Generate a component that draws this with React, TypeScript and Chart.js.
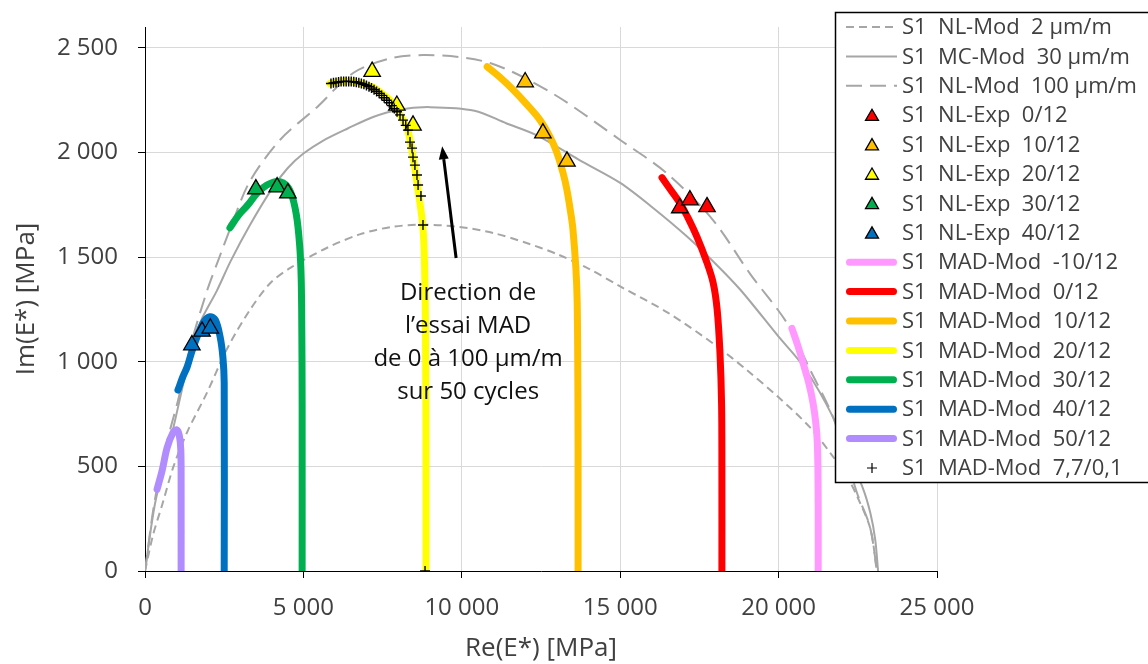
import React, { useEffect, useRef } from 'react';
import { Chart, registerables } from 'chart.js';

Chart.register(...registerables);

// ---------- data ----------
const xTickValues = [0, 5000, 10000, 15000, 20000, 25000];
const yTickValues = [0, 500, 1000, 1500, 2000, 2500];

const nlMod2: number[][] = [
  [0, 0], [250, 170], [550, 320], [900, 500], [1350, 670], [1950, 850], [2600, 1065], [3300, 1245],
  [3950, 1375], [4600, 1450], [5750, 1545], [6800, 1610], [7800, 1645], [8800, 1655], [9900, 1645],
  [11000, 1615], [12000, 1570], [13000, 1515], [14000, 1445], [15000, 1360], [16500, 1235],
  [18000, 1080], [19000, 960], [20000, 830], [21000, 685], [21700, 550], [22200, 440], [22500, 350],
  [22900, 200], [23100, 0],
];

const mcMod30: number[][] = [
  [0, 0], [320, 325], [880, 675], [1420, 1030], [1750, 1190], [2270, 1340], [2700, 1480], [3300, 1650],
  [4000, 1825], [4500, 1925], [5000, 1995], [5600, 2055], [6400, 2115], [7200, 2170], [8000, 2205],
  [9000, 2217], [10400, 2200], [11400, 2140], [12400, 2080], [13700, 1965], [15000, 1855],
  [16000, 1740], [17100, 1600], [18000, 1470], [18800, 1343], [20000, 1120], [20800, 975],
  [21700, 740], [22650, 400], [22900, 275], [23050, 150], [23140, 0],
];

const nlMod100: number[][] = [
  [0, 0], [300, 330], [700, 620], [1050, 820], [1500, 1110], [1960, 1340], [2300, 1480], [2700, 1640],
  [3300, 1860], [4260, 2060], [5430, 2217], [6570, 2380], [7730, 2450], [8780, 2466], [9940, 2456],
  [10890, 2428], [11930, 2361], [13200, 2251], [15000, 2060], [16480, 1900], [17930, 1677],
  [19100, 1420], [20265, 1185], [21000, 960], [21717, 736], [22475, 373], [22885, 210], [23106, 0],
];

const expRed: number[][] = [[16880, 1735], [17200, 1773], [17740, 1740]];
const expOrange: number[][] = [[12000, 2337], [12560, 2093], [13320, 1958]];
const expYellow: number[][] = [[7170, 2387], [7950, 2225], [8460, 2130]];
const expGreen: number[][] = [[3500, 1825], [4170, 1835], [4510, 1806]];
const expBlue: number[][] = [[1480, 1080], [1800, 1145], [2060, 1160]];

const madPink: number[][] = [
  [20420, 1160], [20600, 1080], [20770, 995], [20950, 900], [21090, 800], [21180, 700], [21220, 620],
  [21240, 500], [21250, 300], [21250, 0],
];
const madRed: number[][] = [
  [16320, 1880], [16600, 1820], [16900, 1755], [17200, 1670], [17430, 1595], [17700, 1490],
  [17930, 1380], [18060, 1250], [18150, 1040], [18200, 800], [18210, 500], [18210, 0],
];
const madOrange: number[][] = [
  [10800, 2410], [11200, 2360], [11620, 2300], [12050, 2230], [12470, 2155], [12800, 2070],
  [13000, 2000], [13200, 1900], [13320, 1820], [13450, 1700], [13510, 1630], [13600, 1450],
  [13640, 1300], [13660, 1000], [13670, 600], [13670, 0],
];
const madYellow: number[][] = [
  [5840, 2330], [6200, 2340], [6700, 2335], [7200, 2312], [7500, 2280], [7830, 2235], [8050, 2180],
  [8270, 2120], [8460, 1980], [8620, 1820], [8780, 1630], [8840, 1340], [8860, 1000], [8870, 500],
  [8870, 0],
];
const madGreen: number[][] = [
  [2680, 1640], [2950, 1700], [3220, 1745], [3630, 1820], [4040, 1858], [4360, 1855], [4600, 1810],
  [4780, 1700], [4880, 1560], [4930, 1400], [4950, 1150], [4960, 800], [4960, 0],
];
const madBlue: number[][] = [
  [1040, 865], [1200, 930], [1330, 975], [1480, 1050], [1640, 1118], [1850, 1190], [2050, 1215],
  [2220, 1200], [2370, 1120], [2460, 1020], [2500, 900], [2500, 0],
];
const madPurple: number[][] = [
  [380, 390], [540, 480], [700, 590], [880, 660], [1000, 675], [1080, 650], [1130, 580], [1140, 400],
  [1140, 0],
];

const madCross: number[][] = [
  [5870, 2330], [5950, 2333], [6030, 2335], [6110, 2337], [6190, 2339], [6270, 2340], [6350, 2340],
  [6430, 2340], [6510, 2339], [6590, 2338], [6670, 2336], [6750, 2333], [6830, 2330], [6910, 2326],
  [6990, 2321], [7070, 2315], [7150, 2308], [7230, 2300], [7310, 2292], [7390, 2283], [7470, 2273],
  [7550, 2262], [7630, 2250], [7710, 2238], [7790, 2224], [7870, 2210], [7955, 2195], [8050, 2180],
  [8145, 2155], [8230, 2130], [8300, 2107], [8365, 2050], [8430, 2021], [8460, 1978], [8520, 1940],
  [8585, 1893], [8620, 1845], [8710, 1792], [8775, 1654], [8840, 0],
];

const annotationLines = ['Direction de', 'l’essai MAD', 'de 0 à 100 µm/m', 'sur 50 cycles'];

// ---------- styles ----------
const FONT = "'Open Sans', 'Noto Sans', sans-serif";
const GRAY = '#A6A6A6';
const TEXT = '#404040';

const pts = (a: number[][]) => a.map(([x, y]) => ({ x, y }));

const grayLine = (label: string, data: number[][], dash: number[]) => ({
  label, data: pts(data), showLine: true, borderColor: GRAY, backgroundColor: GRAY,
  borderWidth: 2, borderDash: dash, pointRadius: 0, tension: 0.3, order: 30, kind: 'line',
});
const expPts = (label: string, data: number[][], color: string) => ({
  label, data: pts(data), showLine: false, pointStyle: 'triangle', pointRadius: 9.5,
  pointBackgroundColor: color, pointBorderColor: '#000', pointBorderWidth: 1.3,
  backgroundColor: color, borderColor: '#000', order: 10, kind: 'tri',
});
const madLine = (label: string, data: number[][], color: string) => ({
  label, data: pts(data), showLine: true, borderColor: color, backgroundColor: color,
  borderWidth: 7, borderCapStyle: 'round', borderJoinStyle: 'round', pointRadius: 0,
  tension: 0.35, order: 20, kind: 'thick',
});

const fmt = (v: number) => String(v).replace(/\B(?=(\d{3})+(?!\d))/g, ' ');

const annotationPlugin = {
  id: 'annot',
  afterDatasetsDraw(chart: any) {
    const { ctx, scales } = chart;
    const xs = scales.x, ys = scales.y;
    ctx.save();
    const tx = xs.getPixelForValue(9820), ty = ys.getPixelForValue(1496);
    const hx = xs.getPixelForValue(9380), hy = ys.getPixelForValue(2030);
    const ang = Math.atan2(hy - ty, hx - tx);
    const headLen = 13, headW = 5;
    const bx = hx - Math.cos(ang) * headLen, by = hy - Math.sin(ang) * headLen;
    ctx.strokeStyle = '#000';
    ctx.lineWidth = 3;
    ctx.beginPath(); ctx.moveTo(tx, ty); ctx.lineTo(bx, by); ctx.stroke();
    ctx.fillStyle = '#000';
    ctx.beginPath();
    ctx.moveTo(hx, hy);
    ctx.lineTo(bx + Math.sin(ang) * headW, by - Math.cos(ang) * headW);
    ctx.lineTo(bx - Math.sin(ang) * headW, by + Math.cos(ang) * headW);
    ctx.closePath(); ctx.fill();
    ctx.font = `24px ${FONT}`;
    ctx.fillStyle = '#111';
    ctx.textAlign = 'center';
    ctx.textBaseline = 'middle';
    const cx = xs.getPixelForValue(10200);
    const y0 = ys.getPixelForValue(1330);
    annotationLines.forEach((t, i) => ctx.fillText(t, cx, y0 + i * 33));
    ctx.restore();
  },
};

const legendPlugin = {
  id: 'boxLegend',
  afterDraw(chart: any) {
    const { ctx } = chart;
    const bx = 835, by = 12, bw = 330, bh = 470;
    ctx.save();
    ctx.fillStyle = '#fff';
    ctx.fillRect(bx, by, bw, bh);
    ctx.strokeStyle = '#000';
    ctx.lineWidth = 1.5;
    ctx.strokeRect(bx + 0.5, by + 0.5, bw, bh);
    const x1 = 846, x2 = 897, mx = 872, tx = 902;
    chart.data.datasets.forEach((ds: any, i: number) => {
      const cy = 27 + i * 29.4;
      ctx.save();
      if (ds.kind === 'line' || ds.kind === 'thick') {
        ctx.strokeStyle = ds.borderColor;
        ctx.lineWidth = ds.borderWidth;
        ctx.setLineDash(ds.borderDash || []);
        ctx.lineCap = ds.kind === 'thick' ? 'round' : 'butt';
        const pad = ds.kind === 'thick' ? 3.5 : 0;
        ctx.beginPath(); ctx.moveTo(x1 + pad, cy); ctx.lineTo(x2 - pad, cy); ctx.stroke();
      } else if (ds.kind === 'tri') {
        const r = 7.5;
        ctx.fillStyle = ds.pointBackgroundColor;
        ctx.strokeStyle = '#000';
        ctx.lineWidth = 1.3;
        ctx.beginPath();
        for (let k = 0; k < 3; k++) {
          const a = -Math.PI / 2 + (k * 2 * Math.PI) / 3;
          const px = mx + Math.cos(a) * r, py = cy + 1.5 + Math.sin(a) * r;
          if (k === 0) ctx.moveTo(px, py); else ctx.lineTo(px, py);
        }
        ctx.closePath(); ctx.fill(); ctx.stroke();
      } else {
        ctx.strokeStyle = '#000';
        ctx.lineWidth = 1.2;
        ctx.beginPath();
        ctx.moveTo(mx - 5, cy); ctx.lineTo(mx + 5, cy);
        ctx.moveTo(mx, cy - 5); ctx.lineTo(mx, cy + 5);
        ctx.stroke();
      }
      ctx.restore();
      ctx.font = `22px ${FONT}`;
      ctx.fillStyle = TEXT;
      ctx.textAlign = 'left';
      ctx.textBaseline = 'middle';
      ctx.fillText(ds.label, tx, cy + 1);
    });
    ctx.restore();
  },
};

export default function App() {
  const ref = useRef<HTMLCanvasElement>(null);
  useEffect(() => {
    const datasets: any[] = [
      grayLine('S1  NL-Mod  2 µm/m', nlMod2, [8, 5]),
      grayLine('S1  MC-Mod  30 µm/m', mcMod30, []),
      grayLine('S1  NL-Mod  100 µm/m', nlMod100, [16, 8]),
      expPts('S1  NL-Exp  0/12', expRed, '#FF0000'),
      expPts('S1  NL-Exp  10/12', expOrange, '#FFC000'),
      expPts('S1  NL-Exp  20/12', expYellow, '#FFFF00'),
      expPts('S1  NL-Exp  30/12', expGreen, '#00B050'),
      expPts('S1  NL-Exp  40/12', expBlue, '#0070C0'),
      madLine('S1  MAD-Mod  -10/12', madPink, '#FF99FF'),
      madLine('S1  MAD-Mod  0/12', madRed, '#FF0000'),
      madLine('S1  MAD-Mod  10/12', madOrange, '#FFC000'),
      madLine('S1  MAD-Mod  20/12', madYellow, '#FFFF00'),
      madLine('S1  MAD-Mod  30/12', madGreen, '#00B050'),
      madLine('S1  MAD-Mod  40/12', madBlue, '#0070C0'),
      madLine('S1  MAD-Mod  50/12', madPurple, '#B08CFF'),
      {
        label: 'S1  MAD-Mod  7,7/0,1', data: pts(madCross), showLine: false, pointStyle: 'cross',
        pointRadius: 5, pointBorderColor: '#000', pointBorderWidth: 1.4, borderColor: '#000',
        order: 5, kind: 'cross',
      },
    ];
    const chart = new Chart(ref.current as HTMLCanvasElement, {
      type: 'scatter',
      data: { datasets },
      plugins: [annotationPlugin, legendPlugin],
      options: {
        responsive: false,
        animation: false,
        devicePixelRatio: 1,
        layout: { padding: { left: 0, right: 211, top: 27, bottom: 0 } },
        plugins: { legend: { display: false }, tooltip: { enabled: false } },
        scales: {
          x: {
            type: 'linear', min: 0, max: 25000,
            afterFit: (s: any) => { s.height = 93; s.paddingLeft = 0; s.paddingRight = 0; },
            afterBuildTicks: (s: any) => { s.ticks = xTickValues.map((v) => ({ value: v })); },
            grid: { color: '#D9D9D9', lineWidth: 1, tickColor: '#000', tickLength: 7 },
            border: { color: '#000', width: 1 },
            ticks: { color: TEXT, font: { family: FONT, size: 24 }, padding: 16, callback: (v: any) => fmt(v) },
            title: { display: true, text: 'Re(E*) [MPa]', color: TEXT, font: { family: FONT, size: 26 }, padding: { top: 0, bottom: 0 } },
          },
          y: {
            type: 'linear', min: 0, max: 2600,
            afterFit: (s: any) => { s.width = 145; s.paddingTop = 0; s.paddingBottom = 0; },
            afterBuildTicks: (s: any) => { s.ticks = yTickValues.map((v) => ({ value: v })); },
            grid: { color: '#D9D9D9', lineWidth: 1, tickColor: '#000', tickLength: 7 },
            border: { color: '#000', width: 1 },
            ticks: { color: TEXT, font: { family: FONT, size: 24 }, padding: 20, callback: (v: any) => fmt(v) },
            title: { display: true, text: 'Im(E*) [MPa]', color: TEXT, font: { family: FONT, size: 26 }, padding: { top: 11, bottom: 0 } },
          },
        },
      } as any,
    });
    return () => chart.destroy();
  }, []);
  return (
    <div style={{ position: 'absolute', left: 0, top: 0, width: 1148, height: 664, background: '#fff' }}>
      <canvas ref={ref} width={1148} height={664} style={{ display: 'block' }} />
    </div>
  );
}
